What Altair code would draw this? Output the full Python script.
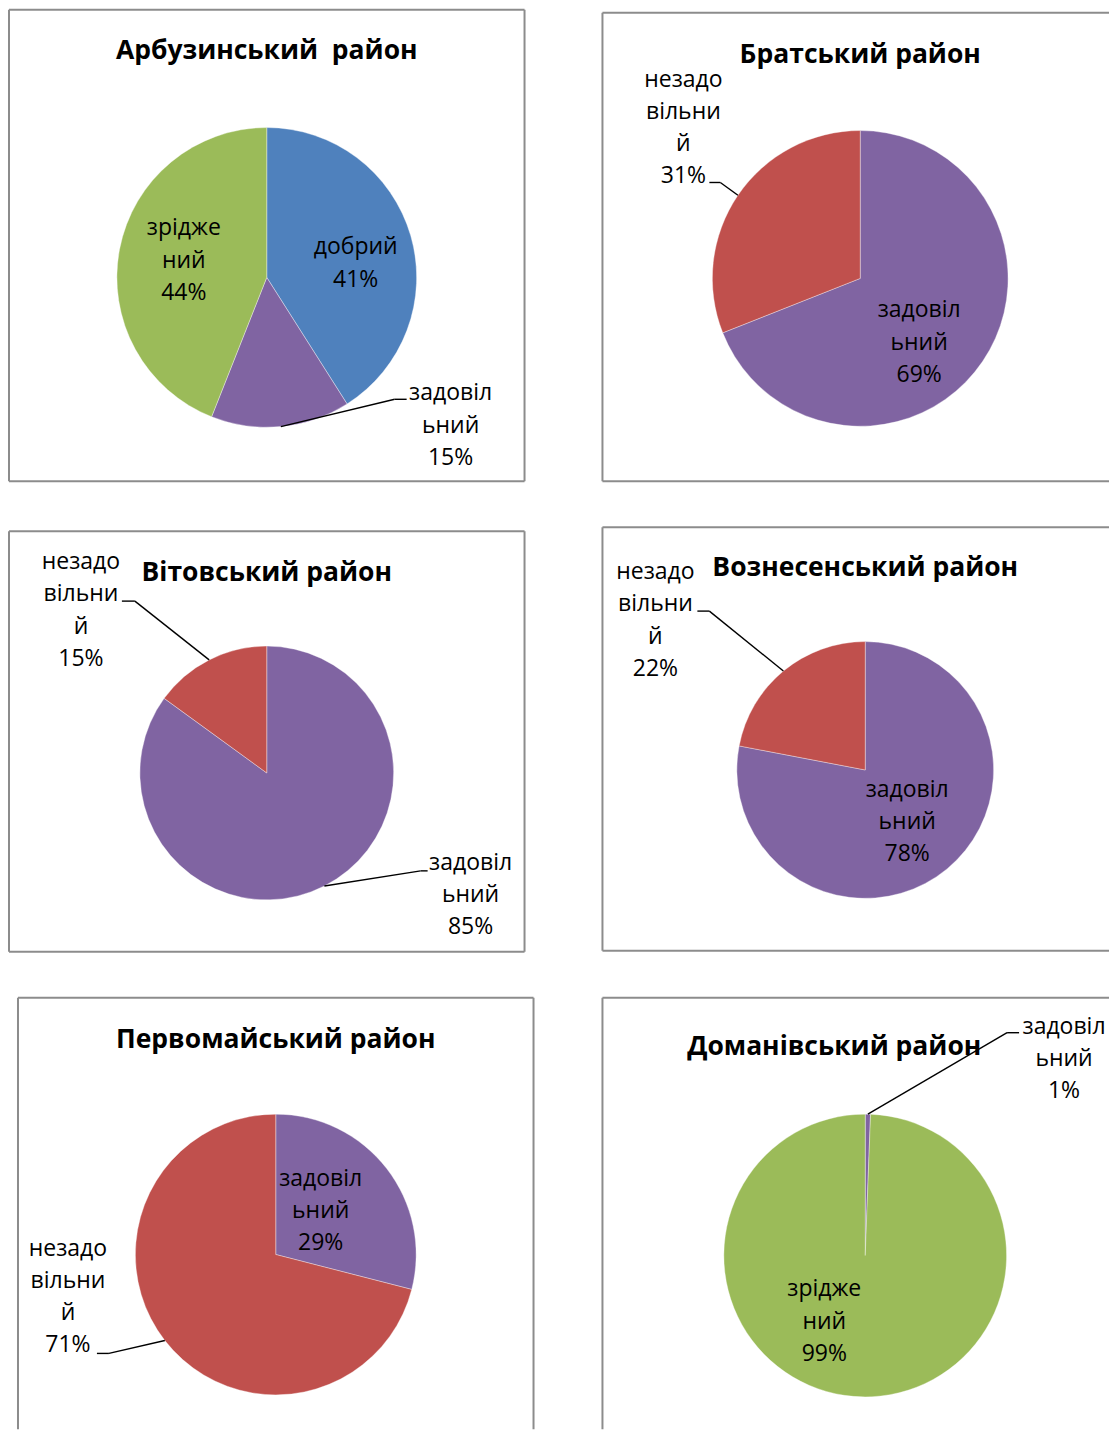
import math
import altair as alt
import pandas as pd

# ---------------- data ----------------
titles = [
    "Арбузинський\u00a0 район",
    "Братський район",
    "Вітовський район",
    "Вознесенський район",
    "Первомайський район",
    "Доманівський район",
]
categories = [
    ["добрий", "задовільний", "зріджений"],
    ["задовільний", "незадовільний"],
    ["задовільний", "незадовільний"],
    ["задовільний", "незадовільний"],
    ["задовільний", "незадовільний"],
    ["задовільний", "зріджений"],
]
values = [
    [41, 15, 44],
    [69, 31],
    [85, 15],
    [78, 22],
    [29, 71],
    [0.6, 99.4],
]
pct_labels = [
    ["41%", "15%", "44%"],
    ["69%", "31%"],
    ["85%", "15%"],
    ["78%", "22%"],
    ["29%", "71%"],
    ["1%", "99%"],
]
# category names as wrapped in the data labels
wrapped = {
    "добрий": ["добрий"],
    "задовільний": ["задовіл", "ьний"],
    "незадовільний": ["незадо", "вільни", "й"],
    "зріджений": ["зрідже", "ний"],
}
palette_domain = ["добрий", "задовільний", "незадовільний", "зріджений"]
palette_range = ["#4F81BD", "#8064A2", "#C0504D", "#9BBB59"]

# ---------------- layout (pixels, local to each cell) ----------------
FONT = "Open Sans"
LABEL_SIZE = 23
TITLE_SIZE = 26.5
LH = 32.3
col_w = [560, 542]
row_h = [497, 470, 456]

layout = [
    dict(box=(0, 1, 516, 473), sides="tlbr", title=(258, 42), center=(258, 269), r=150,
         labels={"добрий": (347, 239), "задовільний": (442, 385), "зріджений": (175, 220)},
         leaders={"задовільний": ((398, 391), (386, 391))}),
    dict(box=(34, 4, None, 473), sides="tlb", title=(292, 46), center=(292, 270), r=148,
         labels={"задовільний": (351, 302), "незадовільний": (115, 71)},
         leaders={"незадовільний": ((141, 174), (152, 174))}),
    dict(box=(0, 26, 516, 447), sides="tlbr", title=(258, 68), center=(258, 268), r=127,
         labels={"задовільний": (462, 358), "незадовільний": (72, 57)},
         leaders={"задовільний": ((419, 366), (412, 366)),
                  "незадовільний": ((113, 96), (126, 96))}),
    dict(box=(34, 22, None, 446), sides="tlb", title=(297, 63), center=(297, 265), r=128.5,
         labels={"задовільний": (339, 285), "незадовільний": (87, 67)},
         leaders={"незадовільний": ((129, 106), (141, 106))}),
    dict(box=(9, 23, 525, None), sides="tlr", title=(267, 65), center=(267, 280), r=140.5,
         labels={"задовільний": (312, 204), "незадовільний": (59, 274)},
         leaders={"незадовільний": ((88, 379), (100, 379))}),
    dict(box=(34, 23, None, None), sides="tl", title=(266, 72), center=(297, 281), r=141.5,
         labels={"задовільний": (496, 52), "зріджений": (256, 315)},
         leaders={"задовільний": ((451, 58), (439, 58))}),
]


def panel(i, W, H):
    L = layout[i]
    xs = alt.Scale(domain=[0, W], nice=False, zero=False)
    ys = alt.Scale(domain=[0, H], nice=False, zero=False, reverse=True)
    cx, cy = L["center"]
    r = L["r"]

    # box
    x0, y0, x1, y1 = L["box"]
    x1 = W - 1 if x1 is None else x1
    y1 = H - 1 if y1 is None else y1
    brows = []
    if "t" in L["sides"]:
        brows.append(dict(x=x0, y=y0, x2=x1, y2=y0))
    if "b" in L["sides"]:
        brows.append(dict(x=x0, y=y1, x2=x1, y2=y1))
    if "l" in L["sides"]:
        brows.append(dict(x=x0, y=y0, x2=x0, y2=y1))
    if "r" in L["sides"]:
        brows.append(dict(x=x1, y=y0, x2=x1, y2=y1))
    box = alt.Chart(pd.DataFrame(brows)).mark_rule(color="#8c8c8c", strokeWidth=2).encode(
        x=alt.X("x:Q", scale=xs, axis=None), x2="x2:Q",
        y=alt.Y("y:Q", scale=ys, axis=None), y2="y2:Q")

    # pie
    cats = categories[i]
    vals = values[i]
    pie_df = pd.DataFrame({"cat": cats, "val": vals, "idx": list(range(len(cats)))})
    pie = alt.Chart(pie_df).mark_arc(radius=r, stroke="#ffffff", strokeWidth=0.6,
                                     strokeOpacity=0.6).encode(
        theta=alt.Theta("val:Q", stack=True),
        color=alt.Color("cat:N", scale=alt.Scale(domain=palette_domain, range=palette_range),
                        legend=None),
        order=alt.Order("idx:Q"),
        x=alt.value(cx), y=alt.value(cy))

    # labels
    trows = []
    for c, p in zip(cats, pct_labels[i]):
        lx, ly = L["labels"][c]
        for j, t in enumerate(wrapped[c] + [p]):
            trows.append(dict(x=lx, y=ly + j * LH, t=t))
    text = alt.Chart(pd.DataFrame(trows)).mark_text(
        font=FONT, fontSize=LABEL_SIZE, color="#000000", align="center", baseline="middle",
        clip=True).encode(
        x=alt.X("x:Q", scale=xs, axis=None), y=alt.Y("y:Q", scale=ys, axis=None), text="t:N")

    # title
    tx, ty = L["title"]
    title = alt.Chart(pd.DataFrame({"t": [titles[i]]})).mark_text(
        font=FONT, fontSize=TITLE_SIZE, fontWeight="bold", color="#000000",
        align="center", baseline="middle").encode(
        x=alt.value(tx), y=alt.value(ty), text="t:N")

    # leader lines from the slice mid-angle point on the rim
    lrows = []
    total = sum(vals)
    cum = 0.0
    for c, v in zip(cats, vals):
        if c in L["leaders"]:
            a = 2 * math.pi * (cum + v / 2.0) / total
            px, py = cx + r * math.sin(a), cy - r * math.cos(a)
            (ex, ey), (bx, by) = L["leaders"][c]
            lrows.append(dict(x=px, y=py, x2=bx, y2=by))
            lrows.append(dict(x=bx, y=by, x2=ex, y2=ey))
        cum += v
    layers = [box, pie, text, title]
    if lrows:
        leaders = alt.Chart(pd.DataFrame(lrows)).mark_rule(color="#000000", strokeWidth=1.4).encode(
            x=alt.X("x:Q", scale=xs, axis=None), x2="x2:Q",
            y=alt.Y("y:Q", scale=ys, axis=None), y2="y2:Q")
        layers.append(leaders)
    return alt.layer(*layers).properties(width=W, height=H)


panels = [panel(ri * 2 + ci, col_w[ci], row_h[ri]) for ri in range(3) for ci in range(2)]

chart = alt.concat(*panels, columns=2, spacing=0, bounds="flush").resolve_scale(
    x="independent", y="independent", theta="independent"
).configure_view(stroke=None).properties(padding=0, background="#ffffff")

chart.save("out.html", embed_options={"renderer": "svg", "actions": False})
